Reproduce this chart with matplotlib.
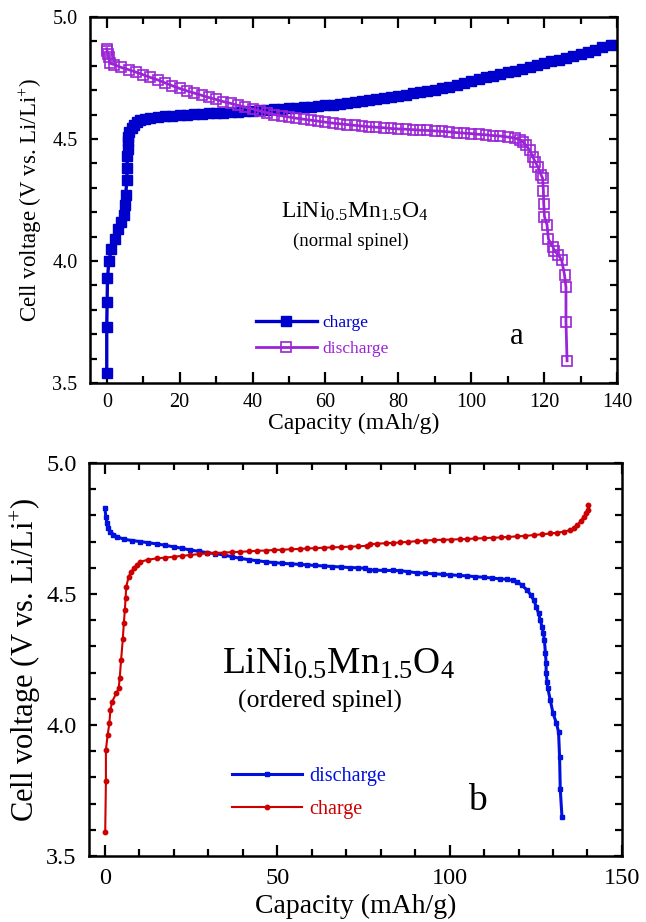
import numpy as np
import matplotlib.pyplot as plt
from matplotlib.ticker import MultipleLocator

plt.rcParams['font.family'] = ['Liberation Serif', 'DejaVu Serif']
plt.rcParams['mathtext.fontset'] = 'custom'
plt.rcParams['mathtext.rm'] = 'Liberation Serif'
plt.rcParams['mathtext.it'] = 'Liberation Serif:italic'

# (a) normal spinel: capacity (mAh/g), voltage (V)
charge_a = [
    (0.0, 3.54), (0.0, 3.73), (0.1, 3.83), (0.2, 3.93), (0.6, 4.00), (1.3, 4.05),
    (2.2, 4.09), (3.1, 4.13), (4.0, 4.16), (4.6, 4.19), (5.1, 4.23), (5.2, 4.27),
    (5.5, 4.33), (5.6, 4.38), (5.6, 4.43), (5.7, 4.46), (5.8, 4.49), (5.9, 4.51),
    (6.2, 4.53), (6.8, 4.545), (7.5, 4.557), (8.3, 4.568), (9.2, 4.576), (10.5, 4.582),
    (12, 4.586), (14, 4.590), (16, 4.593), (18, 4.595), (20, 4.597), (22, 4.599),
    (24, 4.601), (26, 4.603), (28, 4.605), (30, 4.607), (32, 4.608), (34, 4.610),
    (36, 4.611), (38, 4.613), (40, 4.615), (42, 4.617), (44, 4.619), (46, 4.621),
    (48, 4.623), (50, 4.625), (52, 4.627), (54, 4.629), (56, 4.632), (58, 4.635),
    (60, 4.638), (62, 4.641), (64, 4.645), (66, 4.649), (68, 4.653), (70, 4.657),
    (72, 4.661), (74, 4.665), (76, 4.669), (78, 4.673), (80, 4.677), (82, 4.682),
    (84, 4.687), (86, 4.691), (88, 4.696), (90, 4.701), (92, 4.708), (94, 4.715),
    (96, 4.722), (98, 4.730), (100, 4.738), (102, 4.745), (104, 4.752), (106, 4.759),
    (108, 4.766), (110, 4.773), (112, 4.780), (114, 4.787), (116, 4.795), (118, 4.802),
    (120, 4.810), (122, 4.818), (124, 4.825), (126, 4.832), (128, 4.840), (130, 4.848),
    (132, 4.856), (134, 4.866), (136, 4.876), (138.3, 4.885),
]
discharge_a = [
    (0.0, 4.870), (0.1, 4.860), (0.3, 4.850), (0.5, 4.835), (0.9, 4.810), (2, 4.805),
    (4, 4.793), (6, 4.784), (8, 4.774), (10, 4.763), (12, 4.752), (14, 4.742),
    (16, 4.730), (18, 4.718), (20, 4.707), (22, 4.697), (24, 4.688), (26, 4.679),
    (28, 4.670), (30, 4.662), (32, 4.653), (34, 4.646), (36, 4.638), (38, 4.630),
    (40, 4.623), (42, 4.615), (44, 4.607), (46, 4.600), (48, 4.595), (50, 4.590),
    (52, 4.585), (54, 4.581), (56, 4.577), (58, 4.573), (60, 4.569), (62, 4.565),
    (64, 4.562), (66, 4.559), (68, 4.556), (70, 4.553), (72, 4.550), (74, 4.548),
    (76, 4.546), (78, 4.543), (80, 4.541), (82, 4.540), (84, 4.538), (86, 4.536),
    (88, 4.535), (90, 4.533), (92, 4.531), (94, 4.529), (96, 4.526), (98, 4.524),
    (100, 4.522), (102, 4.519), (104, 4.517), (106, 4.514), (108, 4.512), (110, 4.508),
    (112, 4.504), (113.3, 4.497), (114.1, 4.489), (115, 4.475), (116, 4.455),
    (116.9, 4.427), (117.6, 4.405), (118.3, 4.386), (119.2, 4.352), (119.6, 4.339),
    (119.8, 4.288), (119.9, 4.234), (120.1, 4.182), (120.8, 4.148), (121.2, 4.089),
    (122.4, 4.059), (122.8, 4.042), (123.9, 4.025), (124.8, 4.004), (125.6, 3.943),
    (126.0, 3.892), (126.0, 3.751), (126.3, 3.591),
]

# (b) ordered spinel
discharge_b = [
    (0.0, 4.827), (0.3, 4.795), (0.6, 4.770), (1.0, 4.752), (1.6, 4.738), (2.5, 4.727),
    (3.5, 4.719), (5.5, 4.709), (8, 4.704), (10.3, 4.700), (12.5, 4.696), (15.1, 4.691),
    (17.5, 4.686), (20, 4.680), (22.5, 4.674), (24.8, 4.668), (27.2, 4.663), (29.6, 4.658),
    (32, 4.654), (34.5, 4.649), (37, 4.642), (39.3, 4.636), (41.8, 4.631), (44.2, 4.627),
    (46.6, 4.623), (49, 4.620), (51.5, 4.617), (54, 4.615), (56.5, 4.613), (58.7, 4.611),
    (61, 4.609), (63.5, 4.607), (66, 4.605), (68.5, 4.603), (71, 4.601), (73.5, 4.600),
    (75.5, 4.598), (76.5, 4.592), (78.5, 4.591), (81, 4.590), (83.5, 4.590), (85.7, 4.589),
    (88, 4.585), (90.6, 4.581), (93, 4.579), (95.5, 4.577), (98, 4.575), (100.2, 4.573),
    (102.6, 4.571), (105, 4.569), (107.5, 4.566), (109.9, 4.564), (112.2, 4.561),
    (114.5, 4.558), (116.7, 4.556), (118.3, 4.552), (119.6, 4.547), (121, 4.533),
    (122.5, 4.515), (123.5, 4.497), (124.4, 4.477), (125.2, 4.450), (125.8, 4.426),
    (126.3, 4.400), (126.8, 4.375), (127.2, 4.350), (127.5, 4.324), (127.8, 4.274),
    (128.0, 4.235), (128.0, 4.197), (128.3, 4.165), (128.5, 4.140), (129.2, 4.095),
    (130.0, 4.045), (131.0, 4.006), (131.6, 3.974), (131.9, 3.879), (132.1, 3.755),
    (132.6, 3.648),
]
charge_b = [
    (0.1, 3.593), (0.3, 3.786), (0.3, 3.905), (0.8, 3.962), (1.3, 4.006), (1.6, 4.057),
    (2.1, 4.089), (3.3, 4.121), (4.0, 4.140), (4.3, 4.178), (4.7, 4.248), (5.2, 4.327),
    (5.5, 4.390), (5.8, 4.439), (6.0, 4.484), (6.2, 4.528), (6.9, 4.566), (7.6, 4.585),
    (8.4, 4.598), (9.3, 4.612), (10.3, 4.623), (12.5, 4.631), (15.1, 4.636), (17.5, 4.639),
    (20, 4.642), (22.5, 4.646), (24.8, 4.649), (27.2, 4.652), (29.6, 4.655), (32, 4.657),
    (34.5, 4.658), (37, 4.660), (39.3, 4.661), (41.8, 4.663), (44.2, 4.665), (46.6, 4.666),
    (49, 4.668), (51.5, 4.669), (54, 4.671), (56.5, 4.672), (58.7, 4.674), (61, 4.675),
    (63.5, 4.677), (66, 4.678), (68.5, 4.679), (71, 4.681), (73.5, 4.682), (76, 4.684),
    (77, 4.690), (79, 4.692), (81.5, 4.694), (83.5, 4.695), (85.7, 4.697), (88, 4.699),
    (90.5, 4.702), (93, 4.704), (95.4, 4.706), (98, 4.707), (100.5, 4.708), (103, 4.709),
    (105.1, 4.710), (107.5, 4.712), (110, 4.713), (112.5, 4.715), (114.8, 4.716),
    (117, 4.718), (119.5, 4.720), (122, 4.722), (124.4, 4.725), (126.8, 4.728),
    (129.2, 4.731), (131.2, 4.734), (133.1, 4.738), (135, 4.744), (136, 4.752),
    (137, 4.763), (138, 4.778), (138.9, 4.795), (139.6, 4.808), (140.1, 4.821),
    (140.2, 4.840),
]

formula = r'LiNi$_{0.5}$Mn$_{1.5}$O$_4$'
ylabel = r'Cell voltage (V vs. Li/Li$^{+}$)'

blue = '#0000cc'
purple = '#9b24d6'
blue_b = '#0010dd'
red = '#cc0000'


def style_axes(ax, xmax, xmajor, tick_size, xpad, ypad):
    ax.set_ylim(3.5, 5.0)
    ax.set_xlim(-4.6, xmax)
    ax.xaxis.set_major_locator(MultipleLocator(xmajor))
    ax.xaxis.set_minor_locator(MultipleLocator(10))
    ax.yaxis.set_major_locator(MultipleLocator(0.5))
    ax.yaxis.set_minor_locator(MultipleLocator(0.1))
    ax.yaxis.set_major_formatter(plt.FormatStrFormatter('%.1f'))
    ax.tick_params(which='both', direction='in', top=True, right=True,
                   width=1.6, labelsize=tick_size)
    ax.tick_params(which='major', length=8)
    ax.tick_params(which='minor', length=5)
    ax.tick_params(axis='y', which='major', length=6)
    ax.tick_params(axis='x', which='major', pad=xpad)
    ax.tick_params(axis='y', which='major', pad=ypad)
    for s in ax.spines.values():
        s.set_linewidth(1.8)


fig = plt.figure(figsize=(6.46, 9.22), dpi=100)
ax1 = fig.add_axes([0.1393, 0.5846, 0.8158, 0.397])
ax2 = fig.add_axes([0.1378, 0.0716, 0.8250, 0.4262])

# panel a
ca = np.array(charge_a).T
da = np.array(discharge_a).T
ax1.plot(ca[0], ca[1], '-s', color=blue, lw=2.4, ms=6.5, label='charge')
ax1.plot(da[0], da[1], '-s', color=purple, lw=2.0, ms=6.5, mfc='none', mew=1.2,
         label='discharge')
style_axes(ax1, 140, 20, 14.5, 7, 9)
ax1.set_xlabel('Capacity (mAh/g)', fontsize=17, labelpad=1)
ax1.set_ylabel(ylabel, fontsize=16.5, labelpad=6)
ax1.text(0.362, 0.452, formula, transform=ax1.transAxes, fontsize=17)
ax1.text(0.385, 0.375, '(normal spinel)', transform=ax1.transAxes, fontsize=13.5)
ax1.text(0.797, 0.107, 'a', transform=ax1.transAxes, fontsize=22)
ax1.legend(loc='upper left', bbox_to_anchor=(0.315, 0.187), frameon=False,
           fontsize=12.5, handlelength=3.5, handletextpad=0.35, labelspacing=0.6,
           labelcolor='linecolor', borderaxespad=0, borderpad=0)

# panel b
db = np.array(discharge_b).T
cb = np.array(charge_b).T
ax2.plot(db[0], db[1], '-s', color=blue_b, lw=2.2, ms=3, label='discharge')
ax2.plot(cb[0], cb[1], '-o', color=red, lw=1.5, ms=3.2, label='charge')
style_axes(ax2, 150, 50, 17.5, 9, 9)
ax2.set_xlabel('Capacity (mAh/g)', fontsize=20, labelpad=3)
ax2.set_ylabel(ylabel, fontsize=22, labelpad=2)
ax2.text(0.25, 0.463, formula, transform=ax2.transAxes, fontsize=27)
ax2.text(0.28, 0.377, '(ordered spinel)', transform=ax2.transAxes, fontsize=18.5)
ax2.text(0.711, 0.117, 'b', transform=ax2.transAxes, fontsize=27)
ax2.legend(loc='upper left', bbox_to_anchor=(0.268, 0.227), frameon=False,
           fontsize=14.5, handlelength=3.5, handletextpad=0.35, labelspacing=0.7,
           labelcolor='linecolor', borderaxespad=0, borderpad=0)

fig.savefig('out.png', dpi=100)
